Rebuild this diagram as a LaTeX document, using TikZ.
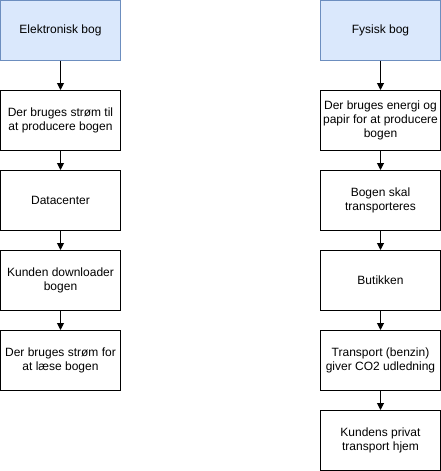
\documentclass[tikz,border=0pt]{standalone}
\usepackage{fontspec}
\setmainfont{Liberation Sans}
\usetikzlibrary{positioning,arrows.meta}
\definecolor{headfill}{HTML}{DAE8FC}
\definecolor{headline}{HTML}{6C8EBF}
\hyphenpenalty=10000
\tikzset{
  box/.style={draw, line width=1pt, minimum width=120pt, minimum height=60pt,
    text width=116pt, align=flush center, inner sep=0pt, outer sep=0pt,
    font=\fontsize{12}{14}\selectfont},
  headbox/.style={box, draw=headline, fill=headfill},
  flow/.style={-{Triangle[length=7pt,width=7pt]}, line width=1pt, shorten >=0.5pt}
}

\begin{document}
\begin{tikzpicture}
\useasboundingbox (0,0) rectangle (441pt,-471pt);
% left column
\node[headbox, anchor=north west] (elbog) at (0.5pt,-0.5pt) {Elektronisk bog};
\node[box, below=30pt of elbog] (elstrom) {Der bruges strøm til at producere bogen};
\node[box, below=20pt of elstrom] (data) {Datacenter};
\node[box, below=20pt of data] (download) {Kunden downloader bogen};
\node[box, below=20pt of download] (laese) {Der bruges strøm for at læse bogen};
% right column
\node[headbox, anchor=north west] (fybog) at (320.5pt,-0.5pt) {Fysisk bog};
\node[box, below=30pt of fybog] (papir) {Der bruges energi og papir for at producere bogen};
\node[box, below=20pt of papir] (transp) {Bogen skal transporteres};
\node[box, below=20pt of transp] (butik) {Butikken};
\node[box, below=20pt of butik] (benzin) {Transport (benzin) giver CO2 udledning};
\node[box, below=20pt of benzin] (hjem) {Kundens privat transport hjem};
% arrows
\draw[flow] (elbog) -- (elstrom);
\draw[flow] (elstrom) -- (data);
\draw[flow] (data) -- (download);
\draw[flow] (download) -- (laese);
\draw[flow] (fybog) -- (papir);
\draw[flow] (papir) -- (transp);
\draw[flow] (transp) -- (butik);
\draw[flow] (butik) -- (benzin);
\draw[flow] (benzin) -- (hjem);
\end{tikzpicture}
\end{document}
